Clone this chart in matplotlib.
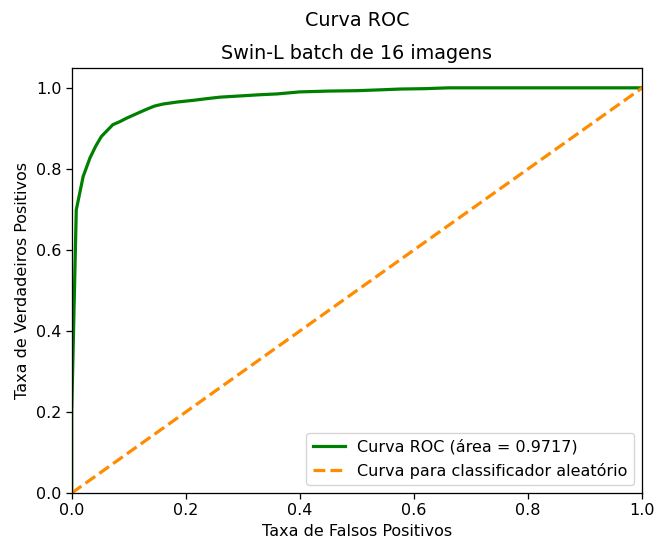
import matplotlib
matplotlib.use("Agg")
import matplotlib.pyplot as plt
import numpy as np

# ROC points
fpr = [0.0, 0.0, 0.008, 0.020, 0.032, 0.042, 0.052, 0.072, 0.085, 0.096,
       0.115, 0.131, 0.145, 0.160, 0.185, 0.212, 0.235, 0.260, 0.295, 0.330,
       0.360, 0.400, 0.450, 0.500, 0.540, 0.575, 0.620, 0.660, 0.800, 1.0]
tpr = [0.0, 0.20, 0.699, 0.781, 0.827, 0.856, 0.880, 0.909, 0.917, 0.925,
       0.937, 0.947, 0.955, 0.960, 0.965, 0.969, 0.973, 0.977, 0.980, 0.983,
       0.985, 0.990, 0.992, 0.993, 0.995, 0.997, 0.998, 1.0, 1.0, 1.0]
roc_auc = 0.9717

s = 1.15  # reference looks rendered at a slightly higher scale
plt.rcParams.update({
    'font.size': 10 * s,
    'axes.linewidth': 0.8 * s,
    'xtick.major.size': 3.5 * s, 'ytick.major.size': 3.5 * s,
    'xtick.major.width': 0.8 * s, 'ytick.major.width': 0.8 * s,
    'legend.fontsize': 10 * s,
})

fig, ax = plt.subplots(figsize=(6.58, 5.45), dpi=100)
plt.subplots_adjust(left=0.109, right=0.976, top=0.876, bottom=0.0954)

ax.plot(fpr, tpr, color='green', lw=2 * s, label='Curva ROC (área = %0.4f)' % roc_auc)
ax.plot([0, 1], [0, 1], color='darkorange', lw=2 * s, linestyle='--',
        label='Curva para classificador aleatório')
ax.set_xlim([0.0, 1.0])
ax.set_ylim([0.0, 1.05])
ax.set_xlabel('Taxa de Falsos Positivos')
ax.set_ylabel('Taxa de Verdadeiros Positivos')
fig.suptitle('Curva ROC', x=0.5425, y=0.98, fontsize=12 * s)
ax.set_title('Swin-L batch de 16 imagens', fontsize=12 * s)
ax.legend(loc='lower right')

fig.savefig('out.png', dpi=100)
